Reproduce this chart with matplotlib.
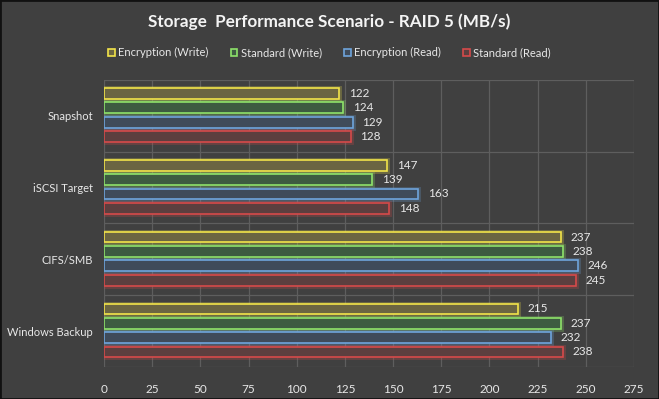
import matplotlib.pyplot as plt
import numpy as np

categories = ['Snapshot', 'iSCSI Target', 'CIFS/SMB', 'Windows Backup']
series = ['Encryption (Write)', 'Standard (Write)', 'Encryption (Read)', 'Standard (Read)']
enc_write = [122, 147, 237, 215]
std_write = [124, 139, 238, 237]
enc_read = [129, 163, 246, 232]
std_read = [128, 148, 245, 238]
values = [enc_write, std_write, enc_read, std_read]

edges = ['#f2e44a', '#8ee26a', '#6ea4dc', '#d64a4a']
fills = ['#6b6542', '#3d5b41', '#3f4b5a', '#5c3f3f']
bg = '#404040'

plt.rcParams['font.family'] = ['Lato', 'DejaVu Sans']

fig = plt.figure(figsize=(6.59, 3.99), dpi=100, facecolor=bg)
ax = fig.add_axes([0.158, 0.080, 0.804, 0.720], facecolor=bg)

y = np.arange(len(categories))
offsets = [-0.31, -0.11, 0.09, 0.29]
h = 0.15
for vals, off, ec, fc, name in zip(values, offsets, edges, fills, series):
    # soft glow behind bar
    ax.barh(y + off, vals, height=h, color='none', edgecolor=ec, linewidth=3.5, alpha=0.25, zorder=2)
    ax.barh(y + off, vals, height=h, color=fc, edgecolor=ec, linewidth=1.2, label=name, zorder=3)
    for yi, v in zip(y, vals):
        ax.text(v + 5, yi + off, str(v), va='center', ha='left', color='#e8e8e8', fontsize=8.5)

ax.set_xlim(0, 275)
ax.set_ylim(3.5, -0.5)
ax.set_xticks(np.arange(0, 276, 25))
ax.set_yticks(y)
ax.set_yticklabels(categories, fontsize=8)
ax.set_yticks(np.arange(-0.5, 3.6, 1), minor=True)
ax.grid(axis='x', which='major', color='#5e5e5e', linewidth=0.9, zorder=0)
ax.grid(axis='y', which='minor', color='#5e5e5e', linewidth=0.9, zorder=0)
ax.tick_params(axis='both', which='both', length=0, colors='#e8e8e8')
ax.tick_params(axis='x', pad=12, labelsize=8.5)
ax.tick_params(axis='y', pad=8)
for s in ax.spines.values():
    s.set_visible(False)

fig.text(0.5, 0.945, 'Storage  Performance Scenario - RAID 5 (MB/s)', ha='center', va='center',
         color='#f4f4f4', fontsize=12.3, fontweight='bold')

leg = fig.legend(*ax.get_legend_handles_labels(), loc='center', bbox_to_anchor=(0.5, 0.868), ncol=4,
                 frameon=False, fontsize=8, labelcolor='#e8e8e8', handlelength=0.6, handleheight=0.6,
                 handletextpad=0.3, columnspacing=2.0)

fig.patches.append(plt.Rectangle((0, 0), 1, 1, transform=fig.transFigure, fill=False,
                                 edgecolor='#111111', linewidth=2))

fig.savefig('out.png', dpi=100, facecolor=bg)
